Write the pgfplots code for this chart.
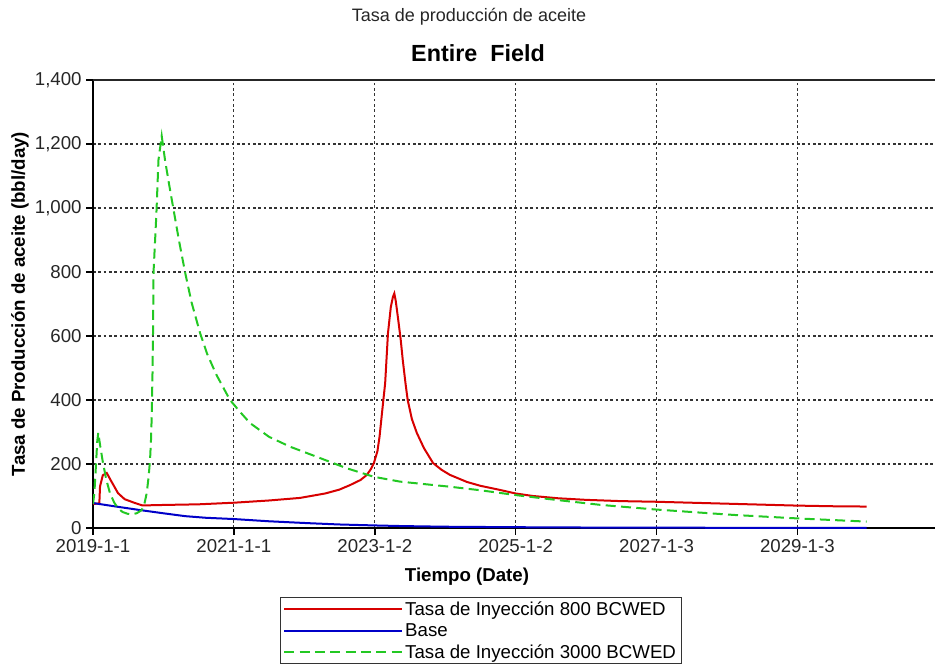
\documentclass[border=0pt]{standalone}
\usepackage{pgfplots}
\pgfplotsset{compat=1.18}
\usepackage{fontspec}
\setmainfont{Liberation Sans}
\definecolor{cred}{RGB}{215,0,0}
\definecolor{cblue}{RGB}{0,0,200}
\definecolor{cgreen}{RGB}{35,200,35}
\begin{document}
\begin{tikzpicture}
\useasboundingbox (-69.75pt,-102pt) rectangle (631.5pt,396pt);
\begin{axis}[
  at={(0,0)}, anchor=south west,
  scale only axis, width=631.5pt, height=336pt,
  xmin=0, xmax=11.96, ymin=0, ymax=1400,
  axis x line*=bottom, axis y line*=left,
  x axis line style={line width=1.3pt},
  y axis line style={line width=2pt},
  xtick={0,2.0,4.003,6.003,8.005,10.005},
  xticklabels={2019-1-1,2021-1-1,2023-1-2,2025-1-2,2027-1-3,2029-1-3},
  ytick={0,200,400,600,800,1000,1200,1400},
  /pgf/number format/.cd, 1000 sep={,}, assume math mode=true, /pgfplots/.cd,
  tick align=outside, major tick length=5pt,
  tick style={black, line width=1.3pt},
  ticklabel style={font=\fontsize{14}{16}\selectfont, text=black!85},
  grid=major,
  major grid style={black!80, line width=0.8pt, dash pattern=on 2pt off 2pt},
  legend style={at={(0.2221,-0.154)}, anchor=north west, draw=black!80, line width=0.8pt,
    font=\fontsize{14}{14}\selectfont, inner xsep=2pt, inner ysep=0.8pt, row sep=0.7pt,
    legend cell align=left},
  legend image code/.code={\draw[#1] (0pt,0pt) -- (88pt,0pt);},
]
\addplot[cred, line width=1.5pt] coordinates {
(0,75) (0.09,77) (0.1,130) (0.14,165) (0.195,172) (0.25,150) (0.355,109) (0.45,90) (0.597,78) (0.696,71) (0.8,71) (1.0,72) (1.5,74) (2.0,79) (2.5,86) (2.94,94) (3.3,108) (3.5,120) (3.65,134) (3.8,150) (3.89,166) (3.95,185) (3.99,203) (4.04,240) (4.07,285) (4.11,370) (4.15,453) (4.19,609) (4.23,690) (4.26,722) (4.28,733) (4.3,710) (4.33,660) (4.37,590) (4.4,525) (4.44,450) (4.47,400) (4.53,340) (4.6,297) (4.7,250) (4.83,203) (4.95,182) (5.07,166) (5.31,144) (5.5,132) (5.78,119) (6.0,108) (6.25,100) (6.6,93) (7.0,88) (7.5,84) (8.0,82) (8.5,79) (9.0,76) (9.5,73) (10.0,70) (10.5,68) (10.99,67)
};
\addlegendentry{Tasa de Inyección 800 BCWED}
\addplot[cblue, line width=1.5pt] coordinates {
(0,78) (0.33,67) (0.67,56) (1.0,46) (1.31,37) (1.6,32) (2.0,28) (2.5,21) (3.07,15) (3.5,11) (4.0,8) (4.4,6) (5.0,4) (6.0,2.5) (7.0,1.5) (8.0,1) (9,0.7) (10,0.5) (10.99,0.4)
};
\addlegendentry{Base}
\addplot[cgreen, line width=1.5pt, dash pattern=on 7.5pt off 4pt] coordinates {
(0,75) (0.02,110) (0.043,200) (0.06,270) (0.075,298) (0.1,260) (0.142,203) (0.19,150) (0.241,109) (0.3,80) (0.355,62) (0.42,50) (0.497,44) (0.55,43) (0.62,46) (0.692,56) (0.73,75) (0.763,109) (0.79,160) (0.81,212) (0.825,280) (0.834,350) (0.845,480) (0.852,600) (0.86,800) (0.9,980) (0.93,1150) (0.976,1225) (1.023,1150) (1.08,1075) (1.14,1000) (1.22,900) (1.307,800) (1.4,705) (1.52,610) (1.62,545) (1.75,480) (1.946,400) (2.1,360) (2.23,328) (2.5,285) (2.8,254) (3.22,219) (3.6,187) (3.99,160) (4.36,145) (5.07,129) (5.5,118) (6.0,103) (6.49,90) (7.22,72) (7.98,58) (9.09,41) (10.0,30) (10.99,20)
};
\addlegendentry{Tasa de Inyección 3000 BCWED}
\draw[black!85, line width=1pt] (rel axis cs:0,1) -- (rel axis cs:1,1);
\end{axis}
\node[font=\fontsize{13.5}{15}\selectfont, text=black!85] at (282pt,383.25pt) {Tasa de producción de aceite};
\node[font=\bfseries\fontsize{17.5}{20}\selectfont] at (288.75pt,356.25pt) {Entire\ \ Field};
\node[font=\bfseries\fontsize{14}{16}\selectfont] at (280.5pt,-36.75pt) {Tiempo (Date)};
\node[font=\bfseries\fontsize{14}{16}\selectfont, rotate=90] at (-54.75pt,168pt) {Tasa de Producción de aceite (bbl/day)};
\end{tikzpicture}
\end{document}
